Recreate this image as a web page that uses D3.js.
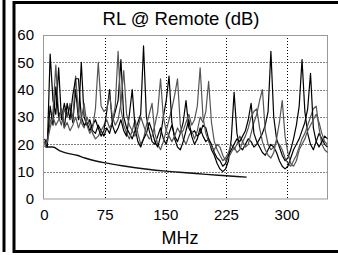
<!DOCTYPE html>
<html>
<head>
<meta charset="utf-8">
<script src="https://cdn.jsdelivr.net/npm/d3@7"></script>
<style>
  body { margin: 0; background: #fff; }
  text { font-family: "Liberation Sans", Arial, sans-serif; fill: #000; }
</style>
</head>
<body>
<script>
const width = 338;
const height = 255;

// frequency grid of the measured traces (MHz), one point every 3.5 MHz from 0
const freqStep = 3.5;

const xTicks = [0, 75, 150, 225, 300];
const yTicks = [0, 10, 20, 30, 40, 50, 60];

// measured return loss traces (dB)
const traceA = [21,19,53,36,31,48,29,35,30,34,28,40,29,50,30,27,29,25,24,27,
  25,23,26,24,28,32,36,51,30,26,24,22,25,28,31,56,30,25,21,20,
  23,26,22,20,24,27,23,21,24,28,36,26,24,25,23,24,27,26,22,18,
  16,13,11,10,11,14,22,39,24,19,18,20,22,21,19,20,22,24,27,32,
  54,30,22,19,16,14,15,18,22,27,34,51,32,24,20,18,21,24,22,20,19];
const traceB = [20,22,28,32,49,30,27,33,30,35,29,45,31,28,26,30,27,24,22,23,
  25,27,29,26,28,34,54,33,27,24,22,25,29,24,20,22,27,31,35,24,
  20,18,21,25,29,33,38,44,27,22,20,23,25,22,25,30,28,32,43,28,
  21,18,16,14,15,17,20,18,20,23,21,19,20,24,28,31,36,40,25,20,
  18,19,21,20,18,15,13,12,14,16,19,22,24,27,30,33,34,26,20,18,17];
const traceC = [22,20,34,27,41,30,33,26,35,29,38,44,44,30,27,28,25,27,29,26,
  23,25,32,40,27,24,26,29,25,23,31,40,26,21,19,22,24,28,25,21,
  19,23,30,36,45,28,22,19,18,21,25,29,23,20,22,26,23,21,22,20,
  17,15,14,12,13,16,18,20,22,21,23,25,29,35,24,21,19,17,16,18,
  20,19,17,14,12,11,12,15,18,20,22,25,28,33,46,26,21,19,21,23,22];
const traceD = [19,21,26,30,27,29,33,26,28,25,27,30,26,29,35,27,24,26,33,50,
  34,32,33,38,30,27,29,35,47,31,27,25,23,26,30,27,24,22,23,27,
  32,44,30,25,23,21,23,26,24,25,28,31,27,29,34,48,30,24,21,19,
  18,20,19,16,14,15,17,19,17,18,21,23,26,30,32,33,26,21,18,16,
  15,17,22,28,36,23,17,13,12,14,18,20,22,25,27,29,31,28,24,21,20];

// limit line
const limitFreq = [1, 10, 20, 30, 40, 50, 75, 100, 125, 150, 175, 200, 225, 250];
const limitVal = [19, 19, 17.5, 16.6, 16, 15, 13.2, 12, 11, 10.2, 9.6, 9, 8.5, 8];

const traces = [
  { values: traceA, color: '#000' },
  { values: traceB, color: '#555' },
  { values: traceC, color: '#000' },
  { values: traceD, color: '#555' }
];

const svg = d3.select('body').append('svg').attr('width', width).attr('height', height);

svg.append('rect').attr('width', width).attr('height', height).attr('fill', '#fff');

// edge of the neighbouring panel and this panel's frame
svg.append('line').attr('x1', 4).attr('x2', 4).attr('y1', 0).attr('y2', 252)
  .attr('stroke', '#000').attr('stroke-width', 3);
svg.append('rect').attr('x', 14).attr('y', 2.5).attr('width', 340).attr('height', 249)
  .attr('fill', 'none').attr('stroke', '#000').attr('stroke-width', 3);

const x = d3.scaleLinear().domain([0, 350]).range([44.5, 327.5]);
const y = d3.scaleLinear().domain([0, 60]).range([199, 35]);

// grid
const grid = svg.append('g');
grid.selectAll('.gx').data(xTicks.filter(d => d > 0)).enter().append('line')
  .attr('x1', d => Math.round(x(d)) + 0.5).attr('x2', d => Math.round(x(d)) + 0.5)
  .attr('y1', y(60)).attr('y2', y(0))
  .attr('stroke', '#000').attr('stroke-dasharray', '1,2');
grid.selectAll('.gy').data(yTicks.filter(d => d > 0 && d < 60)).enter().append('line')
  .attr('x1', x(0)).attr('x2', x(350))
  .attr('y1', d => Math.round(y(d)) + 0.5).attr('y2', d => Math.round(y(d)) + 0.5)
  .attr('stroke', '#000').attr('stroke-dasharray', '1,2');

// plot border
svg.append('rect').attr('x', 43.5).attr('y', 35.5).attr('width', 284).attr('height', 163.5)
  .attr('fill', 'none').attr('stroke', '#999').attr('stroke-width', 1);

svg.append('clipPath').attr('id', 'clip').append('rect')
  .attr('x', 44).attr('y', 35).attr('width', 284).attr('height', 164);

const line = d3.line()
  .x((d, i) => x(i * freqStep))
  .y(d => y(d));

const plot = svg.append('g').attr('clip-path', 'url(#clip)');
plot.selectAll('.trace').data(traces).enter().append('path')
  .attr('class', 'trace')
  .attr('d', d => line(d.values))
  .attr('fill', 'none')
  .attr('stroke', d => d.color)
  .attr('stroke-width', 1.2)
  .attr('stroke-linejoin', 'round');

const limitLine = d3.line()
  .x((d, i) => x(limitFreq[i]))
  .y(d => y(d))
  .curve(d3.curveMonotoneX);
plot.append('path')
  .attr('d', limitLine(limitVal))
  .attr('fill', 'none')
  .attr('stroke', '#111')
  .attr('stroke-width', 1.4);

// tick labels
svg.selectAll('.xl').data(xTicks).enter().append('text')
  .attr('x', d => x(d)).attr('y', 220)
  .attr('text-anchor', 'middle').attr('font-size', 15)
  .text(d => d);
svg.selectAll('.yl').data(yTicks).enter().append('text')
  .attr('x', 34).attr('y', d => y(d)).attr('dy', '0.35em')
  .attr('text-anchor', 'end').attr('font-size', 15)
  .text(d => d);

svg.append('text').attr('x', 181).attr('y', 25).attr('text-anchor', 'middle')
  .attr('font-size', 18.5).text('RL @ Remote (dB)');
svg.append('text').attr('x', 180).attr('y', 244).attr('text-anchor', 'middle')
  .attr('font-size', 18).text('MHz');
</script>
</body>
</html>
